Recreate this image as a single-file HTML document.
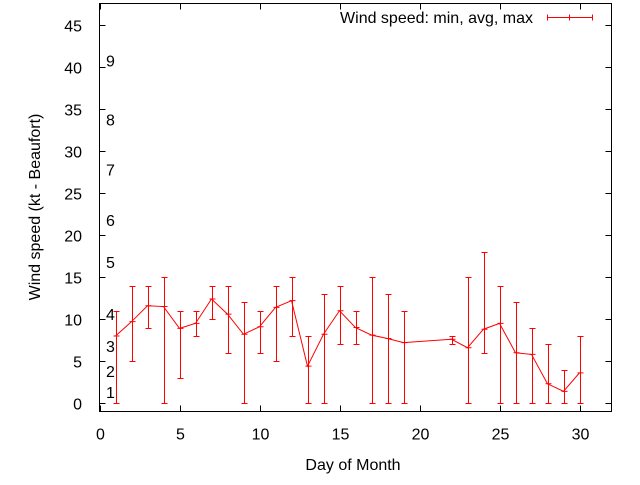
<!DOCTYPE html>
<html><head><meta charset="utf-8"><style>
body{margin:0;background:#fff}
svg text{font-family:"Liberation Sans",sans-serif;font-size:16px;fill:#000}
</style></head><body>
<svg id="chart" width="640" height="480" xmlns="http://www.w3.org/2000/svg">
<g id="axes"></g><g id="marks"></g>
<text transform="translate(40,207) rotate(-90)" text-anchor="middle">Wind speed (kt - Beaufort)</text>
<text x="353" y="470" text-anchor="middle">Day of Month</text>
<g>
<text x="533" y="23" text-anchor="end">Wind speed: min, avg, max</text>
<path d="M547.5 17.5H592.5M547.5 14.5V20.5M592.5 14.5V20.5M569.5 14.5V20.5" stroke="#f00" fill="none"/>
</g>
</svg>
<script>
const days=[1,2,3,4,5,6,7,8,9,10,11,12,13,14,15,16,17,18,19,22,23,24,25,26,27,28,29,30];
const avgs=[8,9.7,11.6,11.5,8.9,9.5,12.4,10.6,8.2,9.1,11.4,12.2,4.4,8.2,11,9,8.1,7.7,7.2,7.6,6.6,8.8,9.5,6,5.8,2.3,1.4,3.6];
const mins=[0,5,9,0,3,8,10,6,0,6,5,8,0,0,7,7,0,0,0,7,0,6,0,0,0,0,0,0];
const maxs=[11,14,14,15,11,11,14,14,12,11,14,15,8,13,14,11,15,13,11,8,15,18,14,12,9,7,4,8];
const xTicks=[0,5,10,15,20,25,30];
const yTicks=[0,5,10,15,20,25,30,35,40,45];
const bftLabels=["1","2","3","4","5","6","7","8","9"];
const bftValues=[1.3,3.8,6.8,10.6,16.8,21.8,27.8,33.8,40.8];
const X0=99.5,X1=611.5,Y0=411.5,Y1=3.5,xmin=0,xmax=32,ymin=-1,ymax=47.6;
const sx=v=>X0+(v-xmin)/(xmax-xmin)*(X1-X0);
const sy=v=>Y0-(v-ymin)/(ymax-ymin)*(Y0-Y1);
const NS="http://www.w3.org/2000/svg";
const ax=document.getElementById('axes'),mk=document.getElementById('marks');
function mkEl(t,p,a){const e=document.createElementNS(NS,t);for(const k in a)e.setAttribute(k,a[k]);p.appendChild(e);return e;}
const fr=mkEl('rect',ax,{x:X0,y:Y1,width:X1-X0,height:Y0-Y1,fill:'none',stroke:'#000'});


xTicks.forEach(v=>{const x=Math.round(sx(v))+0.5;
const t=mkEl('path',ax,{d:`M${x} ${Y0}v-6M${x} ${Y1}v6`,stroke:'#000'});


const l=mkEl('text',ax,{x:x,y:Y0+28,'text-anchor':'middle'});l.textContent=v;

});
yTicks.forEach(v=>{const y=Math.round(sy(v))+0.5;
const t=mkEl('path',ax,{d:`M${X0} ${y}h6M${X1} ${y}h-6`,stroke:'#000'});


const l=mkEl('text',ax,{x:82,y:y+6,'text-anchor':'end'});l.textContent=v;

});
bftLabels.forEach((s,i)=>{const l=mkEl('text',ax,{x:106,y:sy(bftValues[i])+6});l.textContent=s;

});
const line=mkEl('polyline',mk,{points:days.map((d,i)=>sx(d)+','+sy(avgs[i])).join(' '),fill:'none',stroke:'#f00'});


days.forEach((d,i)=>{const x=Math.round(sx(d))+0.5,ylo=Math.round(sy(mins[i]))+0.5,yhi=Math.round(sy(maxs[i]))+0.5,ya=sy(avgs[i]);
const e=mkEl('path',mk,{d:`M${x} ${ylo}V${yhi}M${x-3} ${ylo}h6M${x-3} ${yhi}h6M${x-3} ${ya}h6`,stroke:'#f00',fill:'none'});

});
</script>
</body></html>
